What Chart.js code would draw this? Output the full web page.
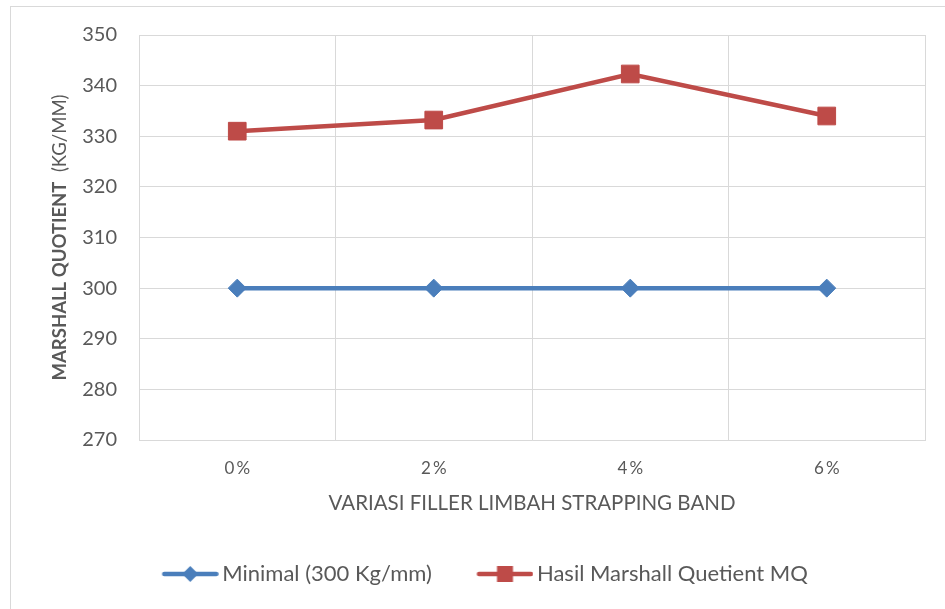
<!DOCTYPE html>
<html>
<head>
<meta charset="utf-8">
<script src="https://cdn.jsdelivr.net/npm/chart.js@4/dist/chart.umd.min.js"></script>
<style>
  html, body { margin: 0; padding: 0; background: #ffffff; }
  #wrap { width: 945px; height: 609px; position: relative; }
</style>
</head>
<body>
<div id="wrap"><canvas id="c" width="945" height="609"></canvas></div>
<script>
// ---- data ----
const categories = ['0%', '2%', '4%', '6%'];
const minimalValues = [300, 300, 300, 300];
const mqValues = [331.0, 333.2, 342.3, 334.0];
const seriesNames = ['Minimal (300 Kg/mm)', 'Hasil Marshall Quetient MQ'];
const yTickMin = 270;
const yTickMax = 350;
const yTickStep = 10;
const xTitle = 'VARIASI FILLER LIMBAH STRAPPING BAND';
const yTitleBold = 'MARSHALL QUOTIENT';
const yTitleRegular = '  (KG/MM)';

const FONT = 'Lato, "Open Sans", sans-serif';
const TXT = '#595959';
const GRID = '#d9d9d9';
const BLUE = '#4a7ebb';
const RED = '#be4b48';

function legendSymbol(color, kind) {
  const c = document.createElement('canvas');
  c.width = 64; c.height = 24;
  const g = c.getContext('2d');
  g.strokeStyle = color; g.fillStyle = color;
  g.lineWidth = 4.5; g.lineCap = 'round';
  g.beginPath(); g.moveTo(9.5, 12); g.lineTo(61.5, 12); g.stroke();
  const cx = 35.5, cy = 12;
  g.beginPath();
  if (kind === 'diamond') {
    g.moveTo(cx, cy - 8); g.lineTo(cx + 8, cy); g.lineTo(cx, cy + 8); g.lineTo(cx - 8, cy); g.closePath();
  } else {
    g.rect(cx - 8, cy - 8, 16, 16);
  }
  g.fill();
  return c;
}
const legendImgs = [legendSymbol(BLUE, 'diamond'), legendSymbol(RED, 'square')];

const framePlugin = {
  id: 'frame',
  beforeDraw(chart) {
    const ctx = chart.ctx;
    ctx.save();
    ctx.strokeStyle = GRID;
    ctx.lineWidth = 1;
    ctx.strokeRect(10.5, 6.5, 1200, 1200);
    ctx.restore();
  }
};

const yTitlePlugin = {
  id: 'yTitle',
  afterDraw(chart) {
    const ctx = chart.ctx;
    const area = chart.chartArea;
    const cy = (area.top + area.bottom) / 2;
    ctx.save();
    ctx.translate(60, cy);
    ctx.rotate(-Math.PI / 2);
    ctx.fillStyle = TXT;
    ctx.textBaseline = 'middle';
    ctx.textAlign = 'left';
    const fb = 'bold 18.5px ' + FONT;
    const fr = '18.5px ' + FONT;
    ctx.font = fb; const wb = ctx.measureText(yTitleBold).width;
    ctx.font = fr; const wr = ctx.measureText(yTitleRegular).width;
    let x = -(wb + wr) / 2;
    ctx.font = fb; ctx.fillText(yTitleBold, x, 0);
    ctx.font = fr; ctx.fillText(yTitleRegular, x + wb, 0);
    ctx.restore();
  }
};

new Chart(document.getElementById('c'), {
  type: 'line',
  data: {
    labels: categories,
    datasets: [
      {
        label: seriesNames[0],
        data: minimalValues,
        borderColor: BLUE,
        backgroundColor: BLUE,
        borderWidth: 4.5,
        pointStyle: 'rectRot',
        pointRadius: 9,
        pointBorderWidth: 1,
        pointBackgroundColor: BLUE,
        pointBorderColor: BLUE,
        tension: 0
      },
      {
        label: seriesNames[1],
        data: mqValues,
        borderColor: RED,
        backgroundColor: RED,
        borderWidth: 4.5,
        pointStyle: 'rect',
        pointRadius: 12.5,
        pointBorderWidth: 1,
        pointBackgroundColor: RED,
        pointBorderColor: RED,
        tension: 0
      }
    ]
  },
  options: {
    responsive: false,
    animation: false,
    devicePixelRatio: 1,
    layout: { padding: { left: 45, right: 20, top: 35, bottom: 14 } },
    plugins: {
      legend: {
        position: 'bottom',
        labels: {
          usePointStyle: true,
          pointStyleWidth: 49,
          boxHeight: 22,
          padding: 45,
          color: TXT,
          font: { family: FONT, size: 22 },
          generateLabels(chart) {
            return chart.data.datasets.map((ds, i) => ({
              text: ds.label,
              pointStyle: legendImgs[i],
              fillStyle: ds.borderColor,
              strokeStyle: ds.borderColor,
              lineWidth: 0,
              fontColor: TXT,
              hidden: false,
              datasetIndex: i
            }));
          }
        }
      },
      tooltip: { enabled: false }
    },
    scales: {
      x: {
        type: 'category',
        offset: true,
        grid: { offset: true, color: GRID, lineWidth: 1, drawTicks: false },
        border: { color: GRID, width: 1 },
        ticks: {
          color: TXT, font: { family: FONT, size: 17 }, padding: 18,
          callback(value) { return this.getLabelForValue(value).replace('%', '\u2009%'); }
        },
        title: {
          display: true, text: xTitle, color: TXT,
          font: { family: FONT, size: 20.5 },
          padding: { top: 0, bottom: 2 }
        },
        afterFit(axis) { axis.height = 78; }
      },
      y: {
        min: yTickMin,
        max: yTickMax,
        grid: { color: GRID, lineWidth: 1, drawTicks: false },
        border: { color: GRID, width: 1 },
        ticks: { stepSize: yTickStep, color: TXT, font: { family: FONT, size: 20 }, padding: 22 },
        afterFit(axis) { axis.width = 94; }
      }
    }
  },
  plugins: [framePlugin, yTitlePlugin]
});
</script>
</body>
</html>
